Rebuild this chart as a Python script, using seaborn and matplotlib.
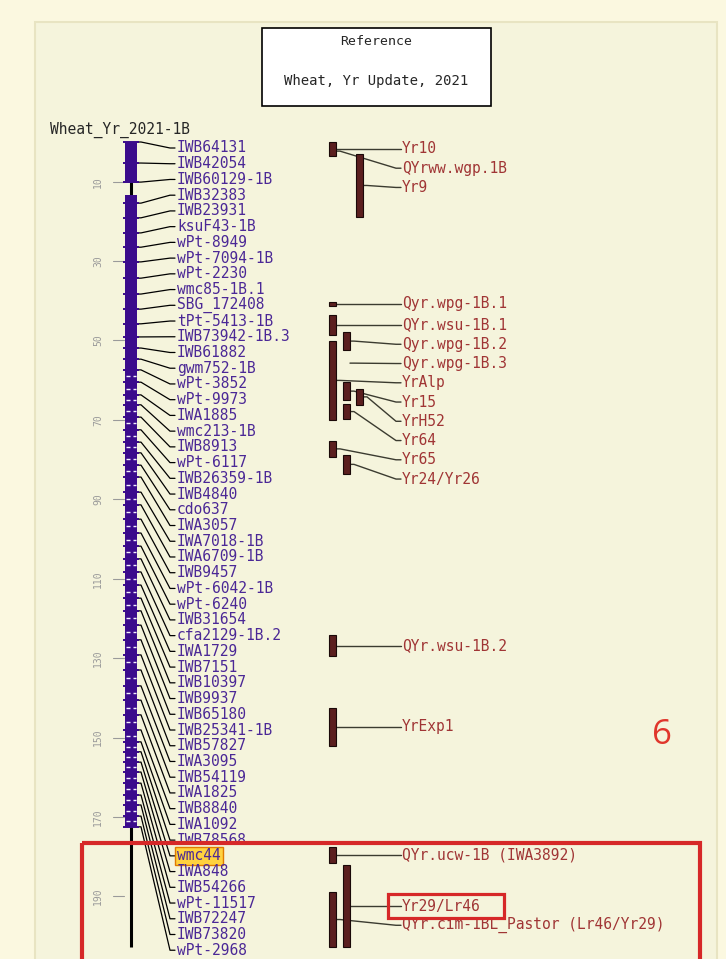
import numpy as np
import pandas as pd
import seaborn as sns
import matplotlib.pyplot as plt
from matplotlib.patches import Rectangle

# ---- data: linkage group 1B, positions in cM ----
marker_names = [
    'IWB64131', 'IWB42054', 'IWB60129-1B', 'IWB32383', 'IWB23931', 'ksuF43-1B',
    'wPt-8949', 'wPt-7094-1B', 'wPt-2230', 'wmc85-1B.1', 'SBG_172408', 'tPt-5413-1B',
    'IWB73942-1B.3', 'IWB61882', 'gwm752-1B', 'wPt-3852', 'wPt-9973', 'IWA1885',
    'wmc213-1B', 'IWB8913', 'wPt-6117', 'IWB26359-1B', 'IWB4840', 'cdo637',
    'IWA3057', 'IWA7018-1B', 'IWA6709-1B', 'IWB9457', 'wPt-6042-1B', 'wPt-6240',
    'IWB31654', 'cfa2129-1B.2', 'IWA1729', 'IWB7151', 'IWB10397', 'IWB9937',
    'IWB65180', 'IWB25341-1B', 'IWB57827', 'IWA3095', 'IWB54119', 'IWA1825',
    'IWB8840', 'IWA1092', 'IWB78568', 'wmc44', 'IWA848', 'IWB54266',
    'wPt-11517', 'IWB72247', 'IWB73820', 'wPt-2968']
marker_cm = [
    0.0, 5.3, 10.1, 15.4, 19.1, 22.9, 26.5, 30.2, 34.3, 38.3, 42.1, 45.8,
    49.1, 51.9, 54.7, 57.4, 60.5, 63.7, 66.2, 69.3, 72.5, 75.6, 78.3, 81.4,
    84.4, 88.2, 91.4, 95.0, 98.5, 101.8, 105.0, 108.3, 111.6, 114.9, 118.1, 121.7,
    125.4, 129.2, 133.0, 137.0, 140.6, 144.3, 148.1, 151.1, 153.6, 156.2, 158.7, 161.5,
    164.5, 167.0, 169.8, 172.5]
highlight_marker = 'wmc44'

chrom_length = 202.7
dense_segments = [(0.0, 10.3), (13.4, 172.5)]
axis_ticks = [10, 30, 50, 70, 90, 110, 130, 150, 170, 190]

qtl_names = ['Yr10', 'QYrww.wgp.1B', 'Yr9', 'Qyr.wpg-1B.1', 'QYr.wsu-1B.1',
             'Qyr.wpg-1B.2', 'Qyr.wpg-1B.3', 'YrAlp', 'Yr15', 'YrH52', 'Yr64',
             'Yr65', 'Yr24/Yr26', 'QYr.wsu-1B.2', 'YrExp1', 'QYr.ucw-1B (IWA3892)',
             'Yr29/Lr46', 'QYr.cim-1BL_Pastor (Lr46/Yr29)']
qtl_start = [0.0, 2.3, 3.0, 40.2, 43.6, 47.9, 55.7, 50.1, 60.5, 62.2, 66.0,
             75.3, 78.8, 124.2, 142.6, 177.6, 182.1, 188.9]
qtl_end = [3.5, 2.3, 18.9, 41.3, 48.6, 52.4, 55.7, 70.0, 65.0, 66.2, 69.8,
           79.3, 83.6, 129.5, 152.1, 181.6, 202.8, 202.8]
qtl_column = [0, 0, 2, 0, 0, 1, 1, 0, 1, 2, 1, 0, 1, 0, 0, 0, 1, 0]
boxed_qtl = 'Yr29/Lr46'

# ---- styling ----
PURPLE = '#3B0B8C'
LABEL_PURPLE = '#4B2896'
QTL_FILL = '#5B1F1F'
QTL_TEXT = '#A03535'
RED = '#D62828'

sns.set_style('white')
plt.rcParams['font.family'] = ['DejaVu Sans Mono', 'DejaVu Sans']

W, H = 726, 959
Y0, PX = 142, 3.97          # pixel row of 0 cM, pixels per cM


def py(y):
    # pixel row -> cM, used for layout items only
    return (y - Y0) / PX


fig = plt.figure(figsize=(W / 100, H / 100), dpi=100, facecolor='#FBF8E0')
ax = fig.add_axes([0, 0, 1, 1])

# panel
ax.add_patch(Rectangle((35, py(22)), 682, py(990) - py(22), fc='#F5F4DC',
                       ec='#E8E4C2', lw=1.5, zorder=0))

# title box
ax.add_patch(Rectangle((262, py(28)), 229, py(106) - py(28), fc='white',
                       ec='black', lw=1.2, zorder=2))
ax.text(376, py(42), 'Reference', ha='center', va='center', fontsize=9.5, zorder=3)
ax.text(376, py(81), 'Wheat, Yr Update, 2021', ha='center', va='center',
        fontsize=10, zorder=3)
ax.text(50, py(130), 'Wheat_Yr_2021-1B', ha='left', va='center', fontsize=10.5)

# ---- chromosome ----
ax.plot([131, 131], [0, chrom_length], color='black', lw=2.2, zorder=3,
        solid_capstyle='butt')
for s, e in dense_segments:
    ax.add_patch(Rectangle((125, s), 12, e - s, fc=PURPLE, ec='none', zorder=4))

mk = pd.DataFrame({'x': 131, 'cm': marker_cm, 'name': marker_names})
sns.scatterplot(data=mk, x='x', y='cm', marker='_', s=125, color=PURPLE,
                linewidth=1.4, ax=ax, legend=False, zorder=5)

ax.set_xlim(0, W)
ax.set_ylim(py(H), py(0))
ax.axis('off')

# light notches inside the dense bar
mids = [(a + b) / 2 for a, b in zip(marker_cm[15:-1], marker_cm[16:])]
ax.hlines(mids, 126, 129.5, color='#F4F0FF', lw=1.0, zorder=6)
ax.hlines(mids, 132.5, 136, color='#F4F0FF', lw=1.0, zorder=6)

# axis ticks
for t in axis_ticks:
    ax.plot([113, 124], [t, t], color='#9A9A9A', lw=0.8, zorder=3)
    ax.text(98, t, str(t), rotation=90, ha='center', va='center',
            fontsize=7, color='#9A9A9A')

# marker connectors and labels (labels evenly stacked)
label_step = py(Y0 + 15.73)
label_first = py(148)
for i, (name, m) in enumerate(zip(marker_names, marker_cm)):
    lab = label_first + i * label_step
    ax.plot([137.5, 141, 170, 175], [m, m, lab, lab], color='black', lw=0.9,
            zorder=2)
    kw = {}
    if name == highlight_marker:
        kw['bbox'] = dict(boxstyle='square,pad=0.12', fc='#FFD23F',
                          ec='#E07A00', lw=1.0)
    ax.text(177, lab, name, ha='left', va='center', fontsize=10.5,
            color=LABEL_PURPLE, zorder=7, **kw)

# ---- QTL column ----
col_x = [329, 343, 356]
qtl_gap = 4.85
prev = -1e9
qtl_label = []
for s, e in zip(qtl_start, qtl_end):
    c = (s + e) / 2
    lab = max(c, prev + qtl_gap)
    qtl_label.append(lab)
    prev = lab

for name, s, e, c_i, lab in zip(qtl_names, qtl_start, qtl_end, qtl_column,
                                qtl_label):
    x0 = col_x[c_i]
    c = (s + e) / 2
    xr = x0 + 7
    ax.plot([xr, xr + 4, 396, 401], [c, c, lab, lab], color='#3B3B30',
            lw=1.0, zorder=2)
    if e > s:
        ax.add_patch(Rectangle((x0, s), 7, e - s, fc=QTL_FILL, ec='#1A0808',
                               lw=0.8, zorder=4))
    ax.text(402, lab, name, ha='left', va='center', fontsize=10.5,
            color=QTL_TEXT, zorder=7)
    if name == boxed_qtl:
        ax.add_patch(Rectangle((388, lab - py(Y0 + 12)), 116, py(Y0 + 24),
                               fill=False, ec=RED, lw=2.3, zorder=8))

# annotations
ax.text(662, py(735), '6', ha='center', va='center', fontsize=25,
        color='#E0362C', family=['Open Sans', 'DejaVu Sans'], style='normal')
ax.add_patch(Rectangle((82, py(843)), 618, py(1000) - py(843), fill=False,
                       ec=RED, lw=3, zorder=9))

fig.savefig('out.png', dpi=100, facecolor=fig.get_facecolor())
